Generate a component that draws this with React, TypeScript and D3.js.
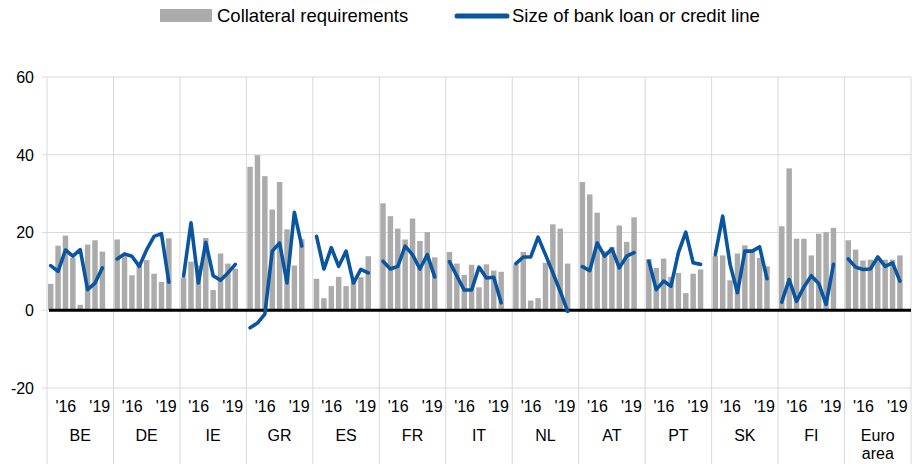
import React, { useEffect, useRef } from "react";
import * as d3 from "d3";

const countries = ["BE", "DE", "IE", "GR", "ES", "FR", "IT", "NL", "AT", "PT", "SK", "FI", "Euro area"];

// collateral requirements, 8 survey rounds per country
const collateral = [
  [6.8, 16.6, 19.2, 13.5, 1.4, 16.9, 18.0, 15.1],
  [18.2, 14.2, 9.0, 12.3, 12.9, 9.4, 7.3, 18.5],
  [8.4, 12.5, 11.5, 18.6, 5.2, 14.6, 12.0, 10.7],
  [36.9, 39.9, 34.5, 25.9, 33.0, 20.8, 11.5, 18.3],
  [8.1, 3.1, 6.2, 8.6, 6.2, 7.5, 8.5, 13.9],
  [27.5, 24.2, 21.0, 18.2, 23.6, 17.8, 20.1, 13.6],
  [15.0, 12.0, 9.1, 11.7, 5.9, 11.8, 10.2, 9.9],
  [11.8, 15.0, 2.5, 3.1, 12.2, 22.1, 21.0, 12.0],
  [33.0, 29.8, 25.1, 15.2, 16.3, 21.8, 17.6, 23.9],
  [13.2, 10.9, 13.3, 8.6, 9.6, 4.4, 9.4, 10.5],
  [14.0, 14.1, 7.7, 14.6, 16.7, 15.6, 13.5, 11.3],
  [21.6, 36.5, 18.4, 18.4, 14.1, 19.7, 20.1, 21.2],
  [18.0, 15.6, 12.8, 13.0, 13.5, 13.0, 13.0, 14.1],
];

// size of bank loan or credit line
const loanSize = [
  [11.5, 10.0, 15.5, 13.9, 15.6, 5.3, 7.0, 10.9],
  [13.2, 14.5, 13.9, 11.3, 15.6, 19.0, 19.7, 7.2],
  [8.8, 22.5, 7.0, 17.5, 8.9, 7.7, 9.6, 11.8],
  [-4.5, -3.3, -1.0, 15.2, 17.3, 7.0, 25.2, 16.5],
  [19.0, 10.6, 16.1, 11.3, 15.2, 7.0, 10.5, 9.6],
  [12.6, 10.6, 11.3, 16.5, 14.3, 10.6, 14.3, 8.6],
  [12.5, 8.8, 5.2, 5.2, 11.1, 8.3, 8.5, 1.9],
  [12.0, 13.7, 13.7, 18.8, 14.3, 9.6, 4.9, -0.3],
  [11.2, 10.2, 17.3, 13.9, 15.8, 10.9, 13.9, 14.8],
  [12.6, 5.3, 7.5, 6.2, 14.8, 20.1, 12.2, 11.8],
  [14.3, 24.2, 11.8, 4.5, 15.2, 15.2, 16.3, 8.1],
  [2.1, 7.9, 2.3, 6.0, 8.9, 6.9, 1.5, 11.8],
  [13.2, 11.1, 10.5, 10.6, 13.7, 11.3, 12.2, 7.5],
];

const slotsPerGroup = 9; // 8 rounds + one empty gap
const tickLabels = ["'16", "'19"];
const tickSlots = [2.55, 7.15];
const yTicks = [-20, 0, 20, 40, 60];

const legendItems = ["Collateral requirements", "Size of bank loan or credit line"];

const BAR = "#ababab";
const LINE = "#0a55a0";
const GRID = "#d9d9d9";
const FONT = "Liberation Sans, Arial, sans-serif";

const Chart = () => {
  const svgRef = useRef<SVGSVGElement>(null);

  useEffect(() => {
    const svg = d3.select(svgRef.current);
    svg.selectAll("*").remove();

    const width = 920;
    const height = 464;
    const left = 47;
    const right = 911;
    const top = 77;
    const bottom = 388;

    const y = d3.scaleLinear().domain([-20, 60]).range([bottom, top]);

    const group = d3.scaleBand<string>().domain(countries).range([left, right]).padding(0);
    const slots = d3.range(slotsPerGroup).map(String);
    const inner = d3
      .scaleBand<string>()
      .domain(slots)
      .range([0, group.bandwidth()])
      .paddingInner(0.26)
      .paddingOuter(0.13);
    const innerLin = d3.scaleLinear().domain([0, slotsPerGroup]).range([0, group.bandwidth()]);

    // horizontal gridlines
    svg.append("g")
      .selectAll("line")
      .data(yTicks.filter(d => d !== 0))
      .enter()
      .append("line")
      .attr("x1", left - 5)
      .attr("x2", right)
      .attr("y1", d => y(d))
      .attr("y2", d => y(d))
      .attr("stroke", GRID)
      .attr("stroke-width", 1);

    svg.append("line")
      .attr("x1", left - 5)
      .attr("x2", left)
      .attr("y1", y(0))
      .attr("y2", y(0))
      .attr("stroke", GRID);

    // vertical group separators
    const edges = countries.map(c => group(c)!).concat([right]);
    svg.append("g")
      .selectAll("line")
      .data(edges)
      .enter()
      .append("line")
      .attr("x1", d => d)
      .attr("x2", d => d)
      .attr("y1", top)
      .attr("y2", height)
      .attr("stroke", GRID)
      .attr("stroke-width", 1);

    // y labels
    svg.append("g")
      .selectAll("text")
      .data(yTicks)
      .enter()
      .append("text")
      .attr("x", 34)
      .attr("y", d => y(d))
      .attr("dy", "0.36em")
      .attr("text-anchor", "end")
      .attr("font-family", FONT)
      .attr("font-size", 16)
      .attr("fill", "#000")
      .text(d => d);

    // bars
    countries.forEach((c, ci) => {
      const gx = group(c)!;
      svg.append("g")
        .selectAll("rect")
        .data(collateral[ci])
        .enter()
        .append("rect")
        .attr("x", (d, i) => gx + inner(String(i))!)
        .attr("width", inner.bandwidth())
        .attr("y", d => y(Math.max(0, d)))
        .attr("height", d => Math.abs(y(d) - y(0)))
        .attr("fill", BAR);
    });

    // zero line
    svg.append("line")
      .attr("x1", left + 2)
      .attr("x2", right)
      .attr("y1", y(0))
      .attr("y2", y(0))
      .attr("stroke", "#000")
      .attr("stroke-width", 3);

    // lines
    const line = d3.line<number>()
      .x((d, i) => i)
      .y(d => y(d));

    countries.forEach((c, ci) => {
      const gx = group(c)!;
      line.x((d, i) => gx + inner(String(i))! + inner.bandwidth() / 2);
      svg.append("path")
        .datum(loanSize[ci])
        .attr("fill", "none")
        .attr("stroke", LINE)
        .attr("stroke-width", 3.6)
        .attr("stroke-linejoin", "round")
        .attr("stroke-linecap", "round")
        .attr("d", line);
    });

    // x tick labels and country labels
    countries.forEach(c => {
      const gx = group(c)!;
      tickLabels.forEach((t, ti) => {
        svg.append("text")
          .attr("x", gx + innerLin(tickSlots[ti]))
          .attr("y", 412)
          .attr("text-anchor", "middle")
          .attr("font-family", FONT)
          .attr("font-size", 16)
          .text(t);
      });
      const words = c === "Euro area" ? ["Euro", "area"] : [c];
      words.forEach((w, wi) => {
        svg.append("text")
          .attr("x", gx + group.bandwidth() / 2)
          .attr("y", 441 + wi * 17.5)
          .attr("text-anchor", "middle")
          .attr("font-family", FONT)
          .attr("font-size", 16)
          .text(w);
      });
    });

    // legend
    const lg = svg.append("g").attr("font-family", FONT).attr("font-size", 18.5);
    lg.append("rect").attr("x", 160).attr("y", 9).attr("width", 52).attr("height", 13).attr("fill", BAR);
    lg.append("text").attr("x", 217).attr("y", 22).text(legendItems[0]);
    lg.append("line")
      .attr("x1", 457).attr("x2", 507).attr("y1", 16).attr("y2", 16)
      .attr("stroke", LINE).attr("stroke-width", 5).attr("stroke-linecap", "round");
    lg.append("text").attr("x", 512).attr("y", 22).text(legendItems[1]);

    svg.attr("width", width).attr("height", height);
  }, []);

  return <svg ref={svgRef} style={{ display: "block" }}></svg>;
};

export default function App() {
  return (
    <div style={{ position: "absolute", left: 0, top: 0 }}>
      <Chart />
    </div>
  );
}
